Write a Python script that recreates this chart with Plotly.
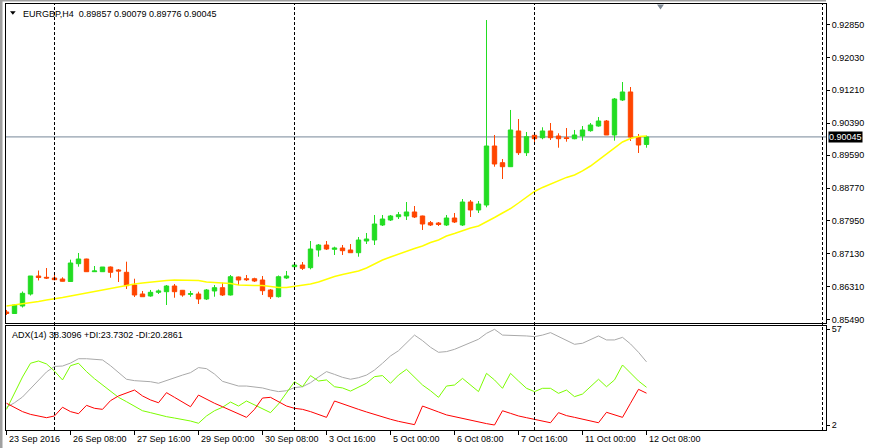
import plotly.graph_objects as go

# ---------------- data ----------------
symbol = "EURGBP,H4"
time_labels = ["23 Sep 2016", "26 Sep 08:00", "27 Sep 16:00", "29 Sep 00:00", "30 Sep 08:00",
               "3 Oct 16:00", "5 Oct 00:00", "6 Oct 08:00", "7 Oct 16:00", "11 Oct 00:00", "12 Oct 08:00"]
time_label_bars = [0, 8, 16, 24, 32, 40, 48, 56, 64, 72, 80]
separator_bars = [6, 36, 66, 102]
price_ticks = [0.92850, 0.92030, 0.91210, 0.90390, 0.89590, 0.88770, 0.87950, 0.87130, 0.86310, 0.85490]
adx_ticks = [57, 2]
adx_title = "ADX(14) 38.3096 +DI:23.7302 -DI:20.2861"

opens = [0.85677, 0.85639, 0.85826, 0.86126, 0.86575, 0.86542, 0.86525, 0.86500, 0.86438, 0.86882,
         0.86999, 0.86682, 0.86682, 0.86799, 0.86725, 0.86667, 0.86350, 0.86126, 0.86076, 0.86168,
         0.86183, 0.86325, 0.86218, 0.86118, 0.86126, 0.86001, 0.86201, 0.86283, 0.86101, 0.86550,
         0.86507, 0.86507, 0.86475, 0.86226, 0.86058, 0.86525, 0.86807, 0.86849, 0.86782, 0.87224,
         0.87348, 0.87241, 0.87273, 0.87224, 0.87156, 0.87448, 0.87473, 0.87847, 0.87972, 0.88054,
         0.88072, 0.88172, 0.88072, 0.87905, 0.87897, 0.87847, 0.88022, 0.87847, 0.88421, 0.88222,
         0.88346, 0.89818, 0.89402, 0.89302, 0.90193, 0.89651, 0.90085, 0.90025, 0.90193, 0.90068,
         0.90025, 0.90000, 0.90068, 0.90200, 0.90317, 0.90442, 0.90093, 0.90966, 0.91166, 0.90043,
         0.89857]
highs = [0.85727, 0.85876, 0.86188, 0.86575, 0.86712, 0.86774, 0.86632, 0.86542, 0.86982, 0.87149,
         0.87005, 0.86824, 0.86799, 0.86812, 0.86749, 0.86932, 0.86507, 0.86201, 0.86226, 0.86238,
         0.86350, 0.86375, 0.86226, 0.86201, 0.86183, 0.86250, 0.86350, 0.86408, 0.86600, 0.86560,
         0.86600, 0.86532, 0.86575, 0.86250, 0.86587, 0.86700, 0.86917, 0.86924, 0.87448, 0.87373,
         0.87448, 0.87306, 0.87348, 0.87373, 0.87548, 0.87648, 0.88097, 0.88097, 0.88097, 0.88172,
         0.88421, 0.88321, 0.88080, 0.87947, 0.87922, 0.88097, 0.88147, 0.88496, 0.88471, 0.88446,
         0.92962, 0.90093, 0.89494, 0.90717, 0.90492, 0.90168, 0.90168, 0.90285, 0.90392, 0.90135,
         0.90267, 0.90218, 0.90317, 0.90392, 0.90542, 0.90467, 0.91016, 0.91415, 0.91290, 0.90118,
         0.90079]
lows = [0.85602, 0.85627, 0.85789, 0.86088, 0.86463, 0.86500, 0.86468, 0.86438, 0.86425, 0.86807,
        0.86675, 0.86675, 0.86675, 0.86532, 0.86425, 0.86250, 0.86051, 0.86058, 0.86058, 0.86126,
        0.85851, 0.86033, 0.86058, 0.86058, 0.85876, 0.85976, 0.86058, 0.86076, 0.86088, 0.86350,
        0.86450, 0.86425, 0.86101, 0.86001, 0.86038, 0.86500, 0.86742, 0.86725, 0.86742, 0.87056,
        0.87224, 0.87099, 0.87099, 0.87156, 0.87056, 0.87373, 0.87348, 0.87822, 0.87947, 0.87997,
        0.87972, 0.88022, 0.87723, 0.87822, 0.87822, 0.87822, 0.87897, 0.87822, 0.88047, 0.88147,
        0.88289, 0.89302, 0.88995, 0.89294, 0.89594, 0.89569, 0.89861, 0.89986, 0.89968, 0.89776,
        0.89926, 0.89986, 0.89951, 0.90175, 0.90300, 0.90093, 0.89951, 0.90941, 0.89943, 0.89644,
        0.89776]
closes = [0.85639, 0.85851, 0.86143, 0.86575, 0.86537, 0.86525, 0.86483, 0.86443, 0.86899, 0.86999,
          0.86682, 0.86700, 0.86799, 0.86667, 0.86700, 0.86333, 0.86101, 0.86058, 0.86168, 0.86201,
          0.86325, 0.86183, 0.86101, 0.86133, 0.86001, 0.86226, 0.86283, 0.86101, 0.86557, 0.86475,
          0.86483, 0.86450, 0.86208, 0.86058, 0.86557, 0.86575, 0.86849, 0.86767, 0.87248, 0.87348,
          0.87248, 0.87273, 0.87206, 0.87156, 0.87473, 0.87498, 0.87872, 0.87997, 0.88072, 0.88103,
          0.88172, 0.88047, 0.87872, 0.87847, 0.87860, 0.88022, 0.87922, 0.88421, 0.88222, 0.88371,
          0.89818, 0.89369, 0.89302, 0.90218, 0.89651, 0.90050, 0.90000, 0.90193, 0.90025, 0.90000,
          0.90005, 0.90093, 0.90218, 0.90342, 0.90442, 0.90093, 0.90991, 0.91166, 0.90043, 0.89843,
          0.90045]
ma = [0.85826, 0.85851, 0.85889, 0.85914, 0.85939, 0.85976, 0.86001, 0.86038, 0.86076, 0.86113,
      0.86163, 0.86201, 0.86238, 0.86275, 0.86313, 0.86338, 0.86375, 0.86400, 0.86425, 0.86438,
      0.86463, 0.86475, 0.86475, 0.86475, 0.86463, 0.86425, 0.86413, 0.86400, 0.86388, 0.86350,
      0.86338, 0.86338, 0.86338, 0.86313, 0.86288, 0.86288, 0.86313, 0.86338, 0.86375, 0.86425,
      0.86500, 0.86562, 0.86612, 0.86662, 0.86700, 0.86774, 0.86874, 0.86974, 0.87049, 0.87124,
      0.87199, 0.87261, 0.87323, 0.87411, 0.87473, 0.87573, 0.87635, 0.87710, 0.87772, 0.87822,
      0.87922, 0.88034, 0.88147, 0.88259, 0.88396, 0.88546, 0.88684, 0.88784, 0.88871, 0.88946,
      0.89034, 0.89096, 0.89196, 0.89319, 0.89469, 0.89606, 0.89756, 0.89918, 0.90005, 0.90055,
      0.90068]
adx = [12.2, 14.8, 18.1, 22.7, 27.9, 32.5, 35.7, 35.9, 37.6, 40.1,
       40.1, 39.8, 39.4, 36.1, 32.3, 28.3, 27.5, 27.3, 26.9, 26.0,
       27.7, 29.4, 30.7, 32.1, 35.0, 34.4, 31.3, 27.1, 25.8, 24.4,
       24.4, 23.7, 23.3, 22.1, 21.2, 21.7, 23.5, 24.0, 26.3, 29.6,
       32.7, 31.1, 29.4, 28.3, 29.2, 30.7, 33.6, 37.5, 41.7, 44.7,
       49.0, 53.7, 50.5, 46.7, 43.8, 44.2, 45.5, 47.4, 49.3, 51.3,
       54.7, 57.0, 53.7, 53.6, 53.4, 53.2, 52.8, 53.7, 55.1, 52.8,
       50.5, 48.4, 49.0, 50.9, 53.2, 50.9, 50.9, 52.4, 48.6, 43.8,
       38.3]
plus_di = [11.0, 20.4, 29.6, 37.5, 38.8, 37.1, 33.0, 27.9, 36.1, 37.5,
           32.7, 28.6, 25.0, 21.2, 17.9, 15.4, 12.9, 10.2, 9.1, 7.9,
           6.8, 6.0, 5.3, 4.3, 3.0, 7.2, 10.2, 12.2, 15.2, 12.9,
           15.8, 13.5, 11.6, 9.1, 14.1, 20.2, 26.9, 24.0, 30.4, 27.3,
           27.9, 24.0, 23.3, 21.5, 23.7, 26.0, 29.8, 30.4, 26.0, 30.7,
           34.0, 29.4, 25.0, 21.7, 17.9, 24.4, 25.0, 28.8, 25.0, 21.2,
           31.7, 27.9, 23.1, 31.7, 27.3, 23.1, 21.2, 23.1, 23.1, 20.2,
           22.1, 18.3, 19.8, 24.0, 28.3, 24.0, 27.9, 36.5, 31.7, 27.3,
           23.7]
minus_di = [14.5, 12.2, 9.7, 8.1, 7.2, 6.2, 7.2, 12.2, 9.7, 8.5,
            13.3, 11.6, 11.0, 16.0, 18.7, 20.2, 22.1, 18.7, 16.4, 14.8,
            20.6, 17.9, 15.4, 12.5, 19.2, 16.8, 14.5, 12.5, 10.6, 8.3,
            6.4, 11.0, 17.5, 17.9, 15.4, 12.9, 11.6, 11.0, 9.7, 8.1,
            6.4, 15.8, 14.1, 12.5, 11.0, 9.5, 8.1, 6.4, 5.3, 4.1,
            3.3, 2.2, 12.9, 11.4, 9.5, 7.8, 6.8, 5.6, 4.5, 3.5,
            2.8, 2.0, 10.2, 8.7, 7.2, 6.2, 5.3, 4.1, 3.3, 9.1,
            7.4, 6.4, 5.5, 4.5, 3.3, 9.3, 7.8, 6.4, 14.5, 22.5,
            20.3]

# ---------------- layout geometry (pixels) ----------------
W, H = 872, 448
L, R, T, B = 6, 826, 4, 430
MAIN_BOTTOM, ADX_TOP = 322.5, 325.5


def px(x):
    return (x - L) / (R - L)


def py(y):
    return (B - y) / (B - T)


bars = list(range(len(closes)))
x_range = [(L - 6.5) / 8.0, (R - 6.5) / 8.0]
price_range = [0.93461 - 0.0002495 * MAIN_BOTTOM, 0.93461 - 0.0002495 * T]
adx_range = [62.367 - 0.57492 * (B - 320), 62.367 - 0.57492 * (ADX_TOP - 320)]

BULL = "#22dd22"
BEAR = "#ff4500"
FONT = "Liberation Sans"

fig = go.Figure()
fig.add_trace(go.Candlestick(
    x=bars, open=opens, high=highs, low=lows, close=closes,
    increasing=dict(line=dict(color=BULL, width=1), fillcolor=BULL),
    decreasing=dict(line=dict(color=BEAR, width=1), fillcolor=BEAR),
    whiskerwidth=0, xaxis="x", yaxis="y", hoverinfo="skip"))
fig.add_trace(go.Scatter(x=bars, y=ma, mode="lines", line=dict(color="#ffff00", width=1.5),
                         xaxis="x", yaxis="y", hoverinfo="skip"))
fig.add_trace(go.Scatter(x=bars, y=adx, mode="lines", line=dict(color="#a9a9a9", width=1),
                         xaxis="x2", yaxis="y2", hoverinfo="skip"))
fig.add_trace(go.Scatter(x=bars, y=plus_di, mode="lines", line=dict(color="#7cfc00", width=1),
                         xaxis="x2", yaxis="y2", hoverinfo="skip"))
fig.add_trace(go.Scatter(x=bars, y=minus_di, mode="lines", line=dict(color="#ff0000", width=1),
                         xaxis="x2", yaxis="y2", hoverinfo="skip"))

shapes = []
# current price line
shapes.append(dict(type="line", xref="paper", yref="y", x0=0, x1=1, y0=closes[-1], y1=closes[-1],
                   line=dict(color="#778899", width=1), layer="below"))
# weekly separators
for b in separator_bars:
    shapes.append(dict(type="line", xref="x", yref="paper", x0=b, x1=b, y0=0, y1=1,
                       line=dict(color="black", width=1, dash="3px,2px")))
# window border
shapes.append(dict(type="rect", xref="paper", yref="paper", x0=px(0), x1=px(2.5), y0=py(H), y1=py(0),
                   fillcolor="#a0a0a0", line=dict(width=0)))
shapes.append(dict(type="rect", xref="paper", yref="paper", x0=px(0), x1=px(R), y0=py(1.5), y1=py(0),
                   fillcolor="#a0a0a0", line=dict(width=0)))
# chart-shift marker
shapes.append(dict(type="path", xref="paper", yref="paper",
                   path=f"M {px(657)},{py(4.5)} L {px(664)},{py(4.5)} L {px(660.5)},{py(9.5)} Z",
                   fillcolor="#7f8a96", line=dict(width=0)))
# title triangle
shapes.append(dict(type="path", xref="paper", yref="paper",
                   path=f"M {px(10)},{py(11.3)} L {px(15.7)},{py(11.3)} L {px(12.85)},{py(14.7)} Z",
                   fillcolor="black", line=dict(width=0)))

annotations = []
annotations.append(dict(xref="paper", yref="paper", x=px(21), y=py(13.5), xanchor="left", yanchor="middle",
                        text=f"{symbol}  {opens[-1]:.5f} {highs[-1]:.5f} {lows[-1]:.5f} {closes[-1]:.5f}",
                        showarrow=False, font=dict(family=FONT, size=9, color="black")))
annotations.append(dict(xref="paper", yref="paper", x=px(10), y=py(334.5), xanchor="left", yanchor="middle",
                        text=adx_title, showarrow=False, font=dict(family=FONT, size=9, color="black")))
for b, t in zip(time_label_bars, time_labels):
    annotations.append(dict(xref="x2", yref="paper", x=b, y=py(439), xanchor="left", yanchor="middle",
                            xshift=0, text=t, showarrow=False, font=dict(family=FONT, size=9, color="black")))
annotations.append(dict(xref="paper", yref="y", x=px(828), y=closes[-1], xanchor="left", yanchor="middle",
                        text=f"{closes[-1]:.5f}", showarrow=False, bgcolor="black", borderpad=0,
                        font=dict(family=FONT, size=9, color="white")))

axis_common = dict(showgrid=False, zeroline=False, showline=True, mirror=True,
                   linecolor="black", linewidth=1)

fig.update_layout(
    width=W, height=H,
    margin=dict(l=L, r=W - R, t=T, b=H - B),
    paper_bgcolor="white", plot_bgcolor="white",
    showlegend=False,
    boxgap=0.45, boxgroupgap=0,
    font=dict(family=FONT, size=9, color="black"),
    xaxis=dict(domain=[0, 1], range=x_range, anchor="y", showticklabels=False, ticks="",
               rangeslider=dict(visible=False), **axis_common),
    yaxis=dict(domain=[py(MAIN_BOTTOM), 1], range=price_range, anchor="x", side="right",
               tickvals=price_ticks, ticktext=[f"{v:.5f}" for v in price_ticks],
               ticks="outside", ticklen=3, tickcolor="black",
               tickfont=dict(family=FONT, size=9, color="black"), **axis_common),
    xaxis2=dict(domain=[0, 1], range=x_range, anchor="y2", matches="x",
                tickvals=time_label_bars, showticklabels=False, ticks="outside", ticklen=4,
                tickcolor="black", **axis_common),
    yaxis2=dict(domain=[0, py(ADX_TOP)], range=adx_range, anchor="x2", side="right",
                tickvals=adx_ticks, ticktext=[str(v) for v in adx_ticks],
                ticks="outside", ticklen=3, tickcolor="black",
                tickfont=dict(family=FONT, size=9, color="black"), **axis_common),
    shapes=shapes, annotations=annotations,
)

fig.write_html("out.html")
